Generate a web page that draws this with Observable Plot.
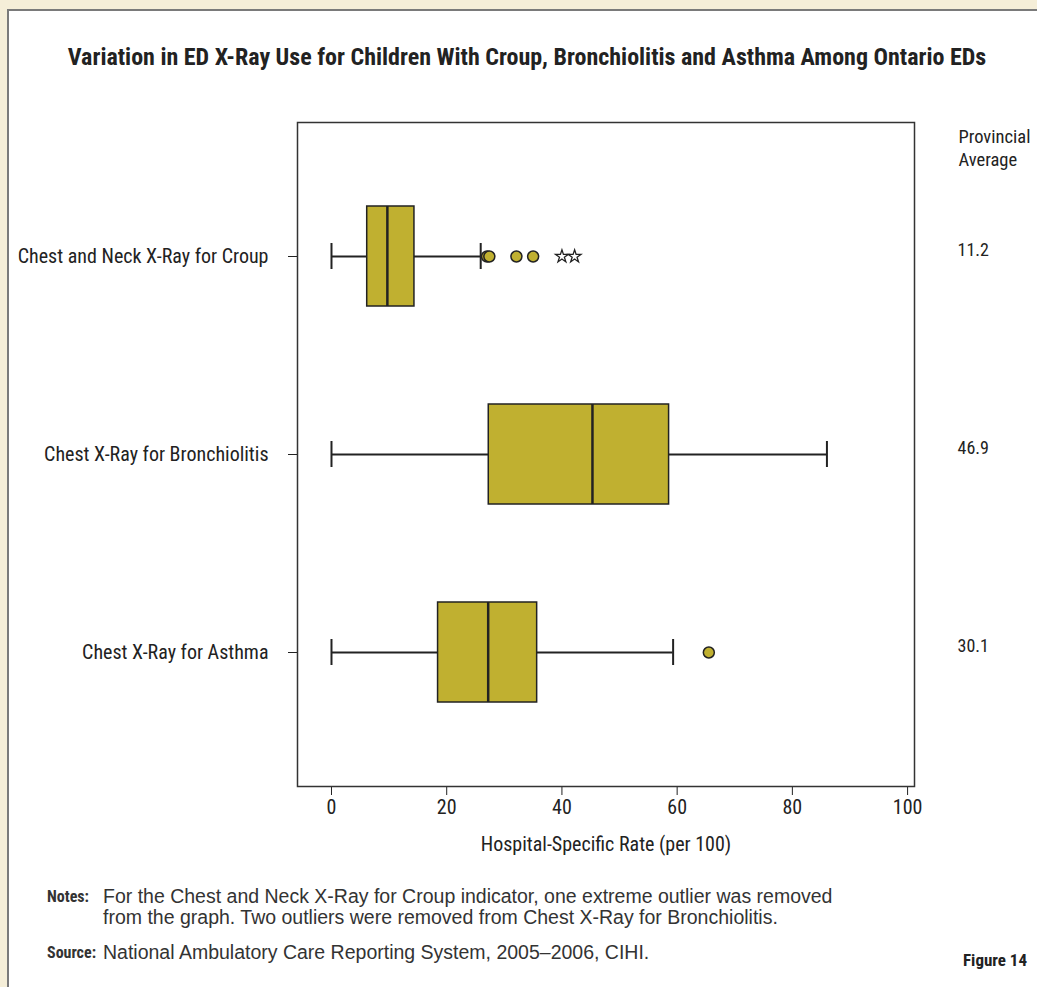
<!DOCTYPE html>
<html>
<head>
<meta charset="utf-8">
<script src="https://cdn.jsdelivr.net/npm/d3@7"></script>
<script src="https://cdn.jsdelivr.net/npm/@observablehq/plot@0.6"></script>
<style>
  html, body { margin: 0; padding: 0; }
  body { width: 1037px; height: 987px; background: #f5eed8; position: relative; overflow: hidden;
         font-family: "Roboto Condensed", "DejaVu Sans Condensed", "Arial Narrow", sans-serif; color: #222; }
  #panel { position: absolute; left: 7px; top: 9px; right: 0; bottom: 0; background: #fff;
           border-left: 2px solid #7a7a7a; border-top: 2px solid #7a7a7a; }
  #title { position: absolute; left: 0; width: 1054px; top: 42px; text-align: center; font-weight: bold; font-size: 24px; line-height: 30px; }
  #chart { position: absolute; left: 0; top: 0; }
  .note { position: absolute; line-height: 21px; color: #333; }
  .note b { position: absolute; left: 0; top: 0; font-size: 16px; }
  .note span { display: block; margin-left: 56px; font-family: "Liberation Sans", Arial, sans-serif; font-size: 19.5px; }
  #notes { left: 47px; top: 886px; }
  #source { left: 47px; top: 942px; }
  #fig { position: absolute; right: 10px; top: 948px; font-weight: bold; font-size: 17px; line-height: 24px; }
</style>
</head>
<body>
<div id="panel"></div>
<div id="title">Variation in ED X-Ray Use for Children With Croup, Bronchiolitis and Asthma Among Ontario EDs</div>
<div id="chart"></div>
<div class="note" id="notes"><b>Notes:</b><span>For the Chest and Neck X-Ray for Croup indicator, one extreme outlier was removed<br>from the graph. Two outliers were removed from Chest X-Ray for Bronchiolitis.</span></div>
<div class="note" id="source"><b>Source:</b><span>National Ambulatory Care Reporting System, 2005–2006, CIHI.</span></div>
<div id="fig">Figure 14</div>
<script>
const categories = ["Chest and Neck X-Ray for Croup", "Chest X-Ray for Bronchiolitis", "Chest X-Ray for Asthma"];
const whiskerLow = [0, 0, 0];
const q1 = [6.2, 27.3, 18.5];
const median = [9.7, 45.3, 27.2];
const q3 = [14.4, 58.6, 35.7];
const whiskerHigh = [25.9, 86.0, 59.3];
const provincialAverage = ["11.2", "46.9", "30.1"];
const croupOutliers = [27.0, 27.4, 32.1, 35.0];
const asthmaOutliers = [65.5];
const croupExtremes = [40.0, 42.2];
const xTicks = [0, 20, 40, 60, 80, 100];

const rows = categories.map((c, i) => ({cat: c, lo: whiskerLow[i], q1: q1[i], med: median[i], q3: q3[i], hi: whiskerHigh[i], avg: provincialAverage[i]}));
const outliers = [
  ...croupOutliers.map(v => ({cat: categories[0], v})),
  ...asthmaOutliers.map(v => ({cat: categories[2], v}))
];
const extremes = croupExtremes.map(v => ({cat: categories[0], v}));

const fill = "#c0b030";
const ink = "#222";

const plot = Plot.plot({
  width: 1037,
  height: 880,
  marginLeft: 297,
  marginRight: 123,
  marginTop: 122,
  marginBottom: 94,
  style: {background: "transparent", fontFamily: '"Roboto Condensed", "DejaVu Sans Condensed", "Arial Narrow", sans-serif', fontSize: "20px", color: ink},
  x: {domain: [-5.9, 101.2], ticks: xTicks, tickSize: 9, tickPadding: 4, label: "Hospital-Specific Rate (per 100)", labelAnchor: "center", labelOffset: 64, labelArrow: "none"},
  y: {domain: categories, paddingInner: 0.496, paddingOuter: 0.418, tickSize: 9, tickPadding: 20, label: null},
  marks: [
    Plot.frame({stroke: "#333", strokeWidth: 1.5}),
    Plot.ruleY(rows, {y: "cat", x1: "lo", x2: "hi", stroke: ink, strokeWidth: 2}),
    Plot.tickX(rows, {y: "cat", x: "lo", stroke: ink, strokeWidth: 2, insetTop: 37, insetBottom: 37}),
    Plot.tickX(rows, {y: "cat", x: "hi", stroke: ink, strokeWidth: 2, insetTop: 37, insetBottom: 37}),
    Plot.barX(rows, {y: "cat", x1: "q1", x2: "q3", fill: fill, stroke: ink, strokeWidth: 1.5}),
    Plot.tickX(rows, {y: "cat", x: "med", stroke: ink, strokeWidth: 2.5}),
    Plot.dot(outliers, {y: "cat", x: "v", r: 5.5, fill: fill, stroke: ink, strokeWidth: 1.5}),
    Plot.dot(extremes, {y: "cat", x: "v", r: 4, symbol: "star", fill: "none", stroke: ink, strokeWidth: 1.3}),
    Plot.text(rows, {y: "cat", text: "avg", frameAnchor: "right", dx: 43, dy: -6, textAnchor: "start", fill: ink, fontSize: 18}),
    Plot.text(["Provincial\nAverage"], {frameAnchor: "top-right", dx: 44, dy: 4, textAnchor: "start", lineAnchor: "top", lineHeight: 1.25, fill: ink, fontSize: 18.5})
  ]
});
document.getElementById("chart").appendChild(plot);
</script>
</body>
</html>
